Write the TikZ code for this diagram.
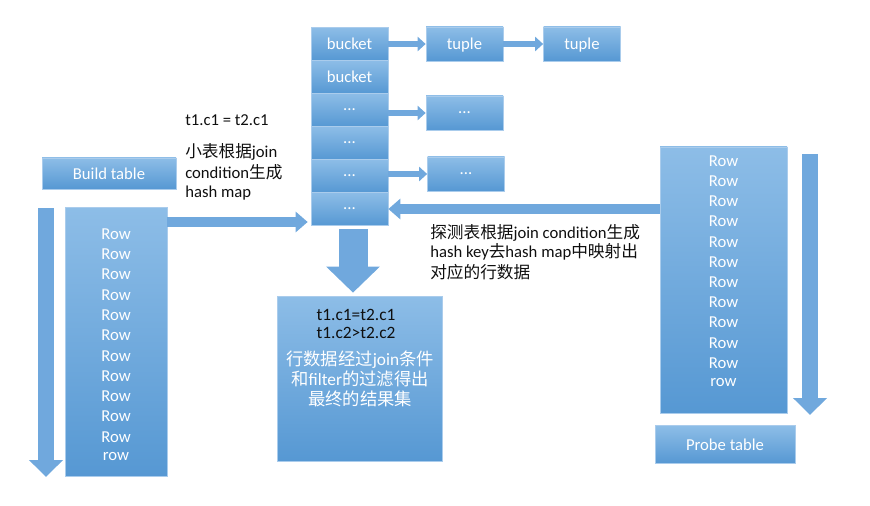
\documentclass[tikz,border=0pt]{standalone}
\usepackage{fontspec}
\setmainfont{Carlito}
\newfontfamily\cjk{Noto Sans CJK SC}
\usetikzlibrary{arrows.meta,calc}
\definecolor{boxtop}{RGB}{141,189,231}
\definecolor{boxbot}{RGB}{86,152,211}
\definecolor{boxline}{RGB}{170,204,236}
\definecolor{arrowc}{RGB}{112,168,221}
\definecolor{txt}{RGB}{15,15,15}
\begin{document}
\begin{tikzpicture}[x=0.75pt,y=-0.75pt,
  box/.style={draw=boxline, line width=0.5pt, top color=boxtop, bottom color=boxbot,
    text=white, font=\fontsize{12.5}{14}\selectfont, inner sep=0pt},
  cell/.style={box, minimum width=57.75pt, minimum height=24.75pt, text depth=1pt},
  rowtxt/.style={text=white, font=\fontsize{12.5}{14}\selectfont, inner sep=0pt},
  wtxt/.style={text=white, font=\fontsize{13}{15}\selectfont, inner sep=0pt},
  note/.style={text=txt, font=\fontsize{12.5}{14}\selectfont, inner sep=0pt, anchor=west},
  rtxt/.style={text=txt, font=\fontsize{13}{15}\selectfont, inner sep=0pt},
  arrS/.style={draw=arrowc, line width=4.5pt, -{Triangle[length=6pt,width=10.5pt]}},
  arrM/.style={draw=arrowc, line width=7.5pt, -{Triangle[length=9pt,width=15pt]}},
  arrV/.style={draw=arrowc, line width=12pt, -{Triangle[length=12.75pt,width=24.75pt]}},
  arrB/.style={draw=arrowc, line width=21.75pt, -{Triangle[length=19.5pt,width=39pt]}}
]
\useasboundingbox (0,0) rectangle (870,506);

% hash map buckets
\node[cell] (b1) at (349.5,44) {bucket};
\node[cell] (b2) at (349.5,77) {bucket};
\node[cell] (b3) at (349.5,110) {...};
\node[cell] (b4) at (349.5,143) {...};
\node[cell] (b5) at (349.5,176) {...};
\node[cell] (b6) at (349.5,209) {...};

% tuples
\node[cell, minimum height=25.5pt] (t1) at (464.5,44) {tuple};
\node[cell, minimum height=25.5pt] (t2) at (582,44) {tuple};
\node[cell, minimum height=25.5pt] (d1) at (464.5,113) {...};
\node[cell, minimum height=25.5pt] (d2) at (466,174) {...};

% build table
\node[box, minimum width=100.5pt, minimum height=23.25pt] (bh) at (109,173.5) {Build table};
\node[box, minimum width=76.5pt, minimum height=201.75pt] (brows) at (116,342) {};
\foreach \i in {1,...,11} \node[rowtxt] (br\i) at (116,{234+20.3*(\i-1)}) {Row};
\node[rowtxt] (br12) at (116,457) {row};

% probe table
\node[box, minimum width=95.25pt, minimum height=199.5pt] (prows) at (723.5,280) {};
\foreach \i in {1,...,11} \node[rowtxt] (pr\i) at (723.5,{161+20.2*(\i-1)}) {Row};
\node[rowtxt] (pr12) at (723.5,383) {row};
\node[box, minimum width=105pt, minimum height=28.5pt] (ph) at (725,444.5) {Probe table};

% result
\node[box, minimum width=123.75pt, minimum height=123.75pt] (res) at (359.5,378.5) {};
\node[rtxt] (r1) at (356,315) {t1.c1=t2.c1};
\node[rtxt] (r2) at (356,333) {t1.c2>t2.c2};
\node[wtxt] (r3) at (360,360) {{\cjk 行数据经过}join{\cjk 条件}};
\node[wtxt] (r4) at (360,379) {{\cjk 和}filter{\cjk 的过滤得出}};
\node[wtxt] (r5) at (360,399) {{\cjk 最终的结果集}};

% notes
\node[note] (n0) at (185,120) {t1.c1 = t2.c1};
\node[note] (n1) at (185,152) {{\cjk 小表根据}join};
\node[note] (n2) at (185,172) {condition{\cjk 生成}};
\node[note] (n3) at (185,193) {hash map};
\node[note] (p1) at (430,233) {{\cjk 探测表根据}join condition{\cjk 生成}};
\node[note] (p2) at (430,252) {hash key{\cjk 去}hash map{\cjk 中映射出}};
\node[note] (p3) at (430,272) {{\cjk 对应的行数据}};

% connectors
\draw[arrS] (b1) -- (t1);
\draw[arrS] (t1) -- (t2);
\draw[arrS] (b3.east |- d1.west) -- (d1.west);
\draw[arrS] (b5.east |- d2.west) -- (d2.west);
\draw[arrM] (prows.west |- b6.east) -- (b6.east);
\coordinate (bin) at ($(b6.west)+(-3,13)$);
\draw[arrM] (brows.north east |- bin) -- (bin);
\coordinate (dtop) at ($(b6.south)+(3.5,3)$);
\coordinate (dtip) at ($(res.north)+(-6.5,-3)$);
\draw[arrB] (dtop) -- (dtip);
\coordinate (lv1) at (46,208);
\coordinate (lv2) at (46,477);
\draw[arrV] (lv1) -- (lv2);
\coordinate (rv1) at (810,154);
\coordinate (rv2) at (810,415);
\draw[arrV] (rv1) -- (rv2);
\end{tikzpicture}
\end{document}
